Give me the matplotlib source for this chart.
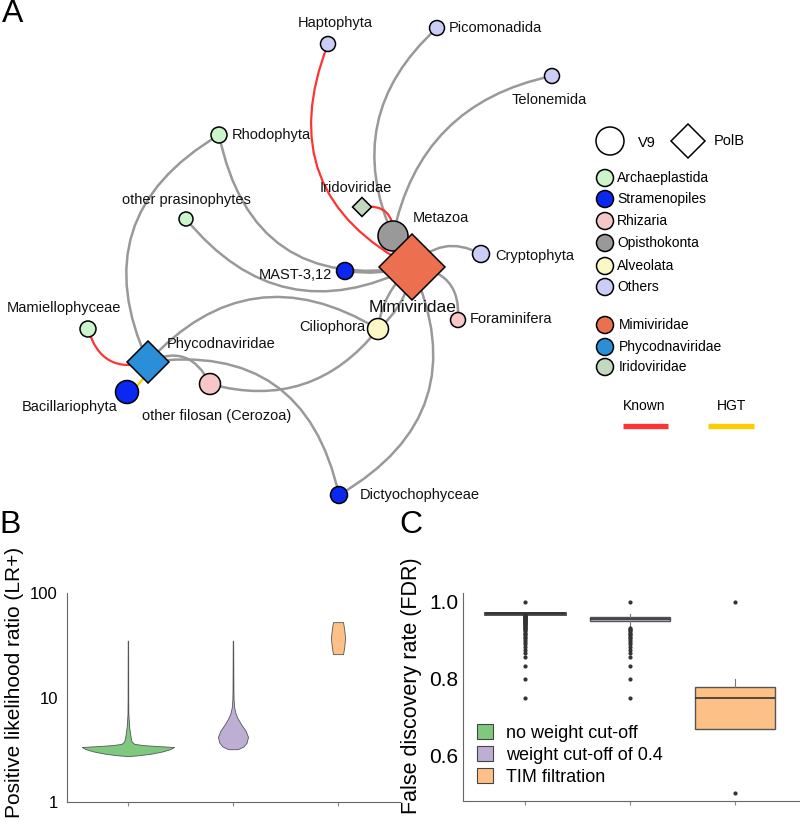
import matplotlib
matplotlib.use("Agg")
import matplotlib.pyplot as plt
from matplotlib.patches import Circle, RegularPolygon, FancyArrowPatch, Patch
from matplotlib.ticker import NullLocator

plt.rcParams['font.family'] = ['Liberation Sans', 'DejaVu Sans']

# ---------------- Panel A: network data ----------------
node_names = ["Haptophyta", "Picomonadida", "Telonemida", "Rhodophyta", "other prasinophytes",
              "Iridoviridae", "Metazoa", "Mimiviridae", "Cryptophyta", "MAST-3,12",
              "Foraminifera", "Ciliophora", "Mamiellophyceae", "Phycodnaviridae",
              "Bacillariophyta", "other filosan (Cerozoa)", "Dictyochophyceae"]
node_x = [328, 437, 552, 219, 186, 362, 393, 412, 481, 345, 458, 378, 88, 148, 127, 210, 339]
node_y = [44, 28, 76, 135, 219, 207, 236, 267, 254, 271, 320, 329, 329, 362, 392, 384, 495]
node_group = ["Others", "Others", "Others", "Archaeplastida", "Archaeplastida",
              "Iridoviridae", "Opisthokonta", "Mimiviridae", "Others", "Stramenopiles",
              "Rhizaria", "Alveolata", "Archaeplastida", "Phycodnaviridae",
              "Stramenopiles", "Rhizaria", "Stramenopiles"]
node_marker = ["V9", "V9", "V9", "V9", "V9", "PolB", "V9", "PolB", "V9", "V9",
               "V9", "V9", "V9", "PolB", "V9", "V9", "V9"]
node_radius = [7.5, 7.5, 7.5, 8, 7, 9.5, 15, 33, 8.5, 8.5, 7.5, 10.5, 8, 21, 11.5, 10.5, 8.5]
label_x = [335, 449, 549, 232, 186, 356, 413, 413, 495, 332, 470, 365, 64, 167, 70, 217, 360]
label_y = [23, 28, 100, 135, 200, 188, 218, 307, 256, 275, 319, 327, 308, 344, 407, 416, 495]
label_ha = ["center", "left", "center", "left", "center", "center", "left", "center", "left",
            "right", "left", "right", "center", "left", "center", "center", "left"]
label_fs = [10.5] * 17
label_fs[7] = 12.5

edge_src = ["Haptophyta", "Picomonadida", "Telonemida", "Iridoviridae", "Rhodophyta",
            "Rhodophyta", "other prasinophytes", "MAST-3,12", "Cryptophyta", "Foraminifera",
            "Ciliophora", "Ciliophora", "Phycodnaviridae", "Phycodnaviridae", "Phycodnaviridae",
            "other filosan (Cerozoa)", "Dictyochophyceae", "Bacillariophyta", "Mamiellophyceae"]
edge_dst = ["Mimiviridae", "Metazoa", "Metazoa", "Metazoa", "Mimiviridae",
            "Phycodnaviridae", "Mimiviridae", "Mimiviridae", "Mimiviridae", "Mimiviridae",
            "Mimiviridae", "Mimiviridae", "Ciliophora", "Dictyochophyceae", "other filosan (Cerozoa)",
            "Ciliophora", "Mimiviridae", "Phycodnaviridae", "Phycodnaviridae"]
edge_type = ["Known", "none", "none", "Known", "none",
             "none", "none", "none", "none", "none",
             "none", "none", "none", "none", "none",
             "none", "none", "HGT", "Known"]
edge_rad = [0.45, 0.36, 0.33, -0.6, 0.48,
            0.45, 0.4, 0.1, 0.4, 0.5,
            0.2, -0.2, -0.41, -0.46, -0.5,
            0.33, 0.45, 0.3, 0.5]

group_colors = {"Archaeplastida": "#ccf5cc", "Stramenopiles": "#0a28f0", "Rhizaria": "#f7c6c6",
                "Opisthokonta": "#999999", "Alveolata": "#fbf8c6", "Others": "#cccdf6",
                "Mimiviridae": "#ec7050", "Phycodnaviridae": "#2a8ed8", "Iridoviridae": "#c3d8bf"}
edge_colors = {"none": "#999999", "Known": "#ff3333", "HGT": "#ffcc00"}

legend_groups = ["Archaeplastida", "Stramenopiles", "Rhizaria", "Opisthokonta", "Alveolata", "Others"]
legend_groups_y = [178, 199, 221, 243, 266, 287]
legend_viruses = ["Mimiviridae", "Phycodnaviridae", "Iridoviridae"]
legend_viruses_y = [325, 347, 367]

# ---------------- Panel B: violin profiles (value, half-width) ----------------
violin_pos = [1, 2, 3]
violin_colors = ["#7fc97f", "#beaed4", "#fdc086"]
green_vals = [2.75, 2.8, 2.9, 3.05, 3.2, 3.36, 3.42, 3.5, 3.6, 3.8, 4.2, 4.6, 5.2, 6.0, 7.0, 10, 35]
green_half = [0.0, 0.1, 0.22, 0.33, 0.4, 0.44, 0.3, 0.15, 0.06, 0.035, 0.025, 0.02, 0.012, 0.008, 0.004, 0.003, 0.002]
purple_vals = [3.2, 3.25, 3.4, 3.7, 4.2, 4.8, 5.5, 6.3, 7.0, 8.0, 9.5, 12, 35]
purple_half = [0.04, 0.06, 0.1, 0.13, 0.143, 0.12, 0.08, 0.045, 0.025, 0.012, 0.006, 0.004, 0.002]
orange_vals = [26, 31, 37, 44, 52.6]
orange_half = [0.048, 0.06, 0.067, 0.06, 0.048]

# ---------------- Panel C: box statistics ----------------
box_labels = ["no weight cut-off", "weight cut-off of 0.4", "TIM filtration"]
box_q1 = [0.969, 0.950, 0.667]
box_med = [0.970, 0.955, 0.750]
box_q3 = [0.971, 0.962, 0.778]
box_whislo = [0.969, 0.935, 0.667]
box_whishi = [0.971, 0.968, 0.800]
fliers_none = [1.0, 0.75, 0.8, 0.833, 0.857, 0.867, 0.875, 0.882, 0.889, 0.895, 0.9, 0.905, 0.909,
               0.913, 0.917, 0.92, 0.923, 0.926, 0.929, 0.931, 0.933, 0.935, 0.938, 0.94, 0.941,
               0.943, 0.944, 0.946, 0.947, 0.949, 0.95, 0.951, 0.952, 0.953, 0.955, 0.956, 0.957,
               0.958, 0.959, 0.96, 0.961, 0.962, 0.963, 0.964, 0.965, 0.966]
fliers_cut = [1.0, 0.75, 0.8, 0.833, 0.857, 0.867, 0.875, 0.882, 0.889, 0.895, 0.9, 0.905, 0.909,
              0.913, 0.917, 0.92, 0.923, 0.926, 0.929, 0.931]
fliers_tim = [1.0, 0.5]

# =====================================================
W, H = 800, 824
fig = plt.figure(figsize=(W / 100, H / 100), dpi=100)

axA = fig.add_axes([0, 0, 1, 1])
axA.set_xlim(0, W)
axA.set_ylim(H, 0)
axA.axis('off')

idx = {n: i for i, n in enumerate(node_names)}
for s, d, t, r in zip(edge_src, edge_dst, edge_type, edge_rad):
    a, b = idx[s], idx[d]
    p = FancyArrowPatch((node_x[a], node_y[a]), (node_x[b], node_y[b]),
                        connectionstyle=f"arc3,rad={r}", arrowstyle='-',
                        color=edge_colors[t], lw=1.8 if t == "none" else 1.6,
                        shrinkA=0, shrinkB=0, zorder=1)
    axA.add_patch(p)


def draw_node(ax, x, y, r, marker, color, z=3):
    if marker == "V9":
        ax.add_patch(Circle((x, y), r, facecolor=color, edgecolor='black', lw=1.1, zorder=z))
    else:
        ax.add_patch(RegularPolygon((x, y), 4, radius=r, orientation=0, facecolor=color,
                                    edgecolor='black', lw=1.1, zorder=z))


for i, n in enumerate(node_names):
    draw_node(axA, node_x[i], node_y[i], node_radius[i], node_marker[i], group_colors[node_group[i]])
    axA.text(label_x[i], label_y[i], n, ha=label_ha[i], va='center', fontsize=label_fs[i],
             color='#111111', zorder=5)

# legend (panel A)
draw_node(axA, 610, 141, 14, "V9", "white")
axA.text(638, 143, "V9", va='center', ha='left', fontsize=10.5)
draw_node(axA, 688, 141, 17, "PolB", "white")
axA.text(714, 141, "PolB", va='center', ha='left', fontsize=10.5)
for g, gy in zip(legend_groups, legend_groups_y):
    draw_node(axA, 605, gy, 8.5, "V9", group_colors[g])
    axA.text(617, gy, g, va='center', ha='left', fontsize=10)
for g, gy in zip(legend_viruses, legend_viruses_y):
    draw_node(axA, 605, gy, 8.5, "V9", group_colors[g])
    axA.text(619, gy, g, va='center', ha='left', fontsize=10)
axA.text(644, 406, "Known", ha='center', va='center', fontsize=10)
axA.plot([623, 668], [426, 426], color=edge_colors["Known"], lw=3.8, solid_capstyle='butt')
axA.text(732, 406, "HGT", ha='center', va='center', fontsize=10)
axA.plot([708, 754], [426, 426], color=edge_colors["HGT"], lw=3.8, solid_capstyle='butt')

# panel letters
fig.text(13 / W, 1 - 14 / H, "A", fontsize=23, ha='center', va='center')
fig.text(10 / W, 1 - 525 / H, "B", fontsize=23, ha='center', va='center')
fig.text(411 / W, 1 - 525 / H, "C", fontsize=23, ha='center', va='center')

# ---------------- Panel B ----------------
axB = fig.add_axes([67 / W, 1 - 802 / H, 333 / W, 209 / H])
axB.set_yscale('log')
axB.set_ylim(1, 100)
axB.set_xlim(0.42, 3.59)
for pos, vals, half, col in zip(violin_pos, [green_vals, purple_vals, orange_vals],
                                [green_half, purple_half, orange_half], violin_colors):
    axB.fill_betweenx(vals, [pos - h for h in half], [pos + h for h in half],
                      facecolor=col, edgecolor='#555555', lw=0.6, zorder=2)
axB.set_yticks([1, 10, 100])
axB.set_yticklabels(["1", "10", "100"])
axB.yaxis.set_minor_locator(NullLocator())
axB.set_xticks(violin_pos)
axB.set_xticklabels([])
axB.tick_params(axis='y', length=0, labelsize=12, pad=6.5)
axB.tick_params(axis='x', length=3, color='#888888')
for sp in ['top', 'right']:
    axB.spines[sp].set_visible(False)
for sp in ['left', 'bottom']:
    axB.spines[sp].set_color('#666666')
    axB.spines[sp].set_linewidth(0.8)
axB.set_ylabel("Positive likelihood ratio (LR+)", fontsize=15)
axB.yaxis.set_label_coords(-0.128, 0.574)

# ---------------- Panel C ----------------
axC = fig.add_axes([463 / W, 1 - 801 / H, 336 / W, 208 / H])
stats = []
for i, fl in enumerate([fliers_none, fliers_cut, fliers_tim]):
    stats.append(dict(label=box_labels[i], q1=box_q1[i], med=box_med[i], q3=box_q3[i],
                      whislo=box_whislo[i], whishi=box_whishi[i], fliers=fl))
bp = axC.bxp(stats, positions=violin_pos, widths=0.76, patch_artist=True, showcaps=False,
             boxprops=dict(edgecolor='#555555', lw=1.0),
             medianprops=dict(color='#333333', lw=1.2),
             whiskerprops=dict(color='#777777', lw=0.8),
             flierprops=dict(marker='o', markersize=2.0, markerfacecolor='#333333',
                             markeredgecolor='#333333', linestyle='none'))
for patch, col in zip(bp['boxes'], violin_colors):
    patch.set_facecolor(col)
bp['boxes'][0].set_linewidth(2.0)
bp['boxes'][0].set_edgecolor('#444444')
axC.set_xlim(0.41, 3.61)
axC.set_ylim(0.48, 1.0235)
axC.set_yticks([0.6, 0.8, 1.0])
axC.set_yticklabels(["0.6", "0.8", "1.0"])
axC.set_xticks(violin_pos)
axC.set_xticklabels([])
axC.tick_params(axis='y', length=0, labelsize=15, pad=3.5)
axC.tick_params(axis='x', length=3, color='#888888')
for sp in ['top', 'right']:
    axC.spines[sp].set_visible(False)
for sp in ['left', 'bottom']:
    axC.spines[sp].set_color('#666666')
    axC.spines[sp].set_linewidth(0.8)
axC.set_ylabel("False discovery rate (FDR)", fontsize=15.5)
axC.yaxis.set_label_coords(-0.122, 0.553)
handles = [Patch(facecolor=c, edgecolor='#444444', lw=0.8) for c in violin_colors]
axC.legend(handles, box_labels, loc='lower left', bbox_to_anchor=(0.01, 0.02), frameon=False,
           fontsize=13, handlelength=0.9, handleheight=0.9, handletextpad=0.7,
           labelspacing=0.25, borderaxespad=0.2)

fig.savefig("out.png", dpi=100)
